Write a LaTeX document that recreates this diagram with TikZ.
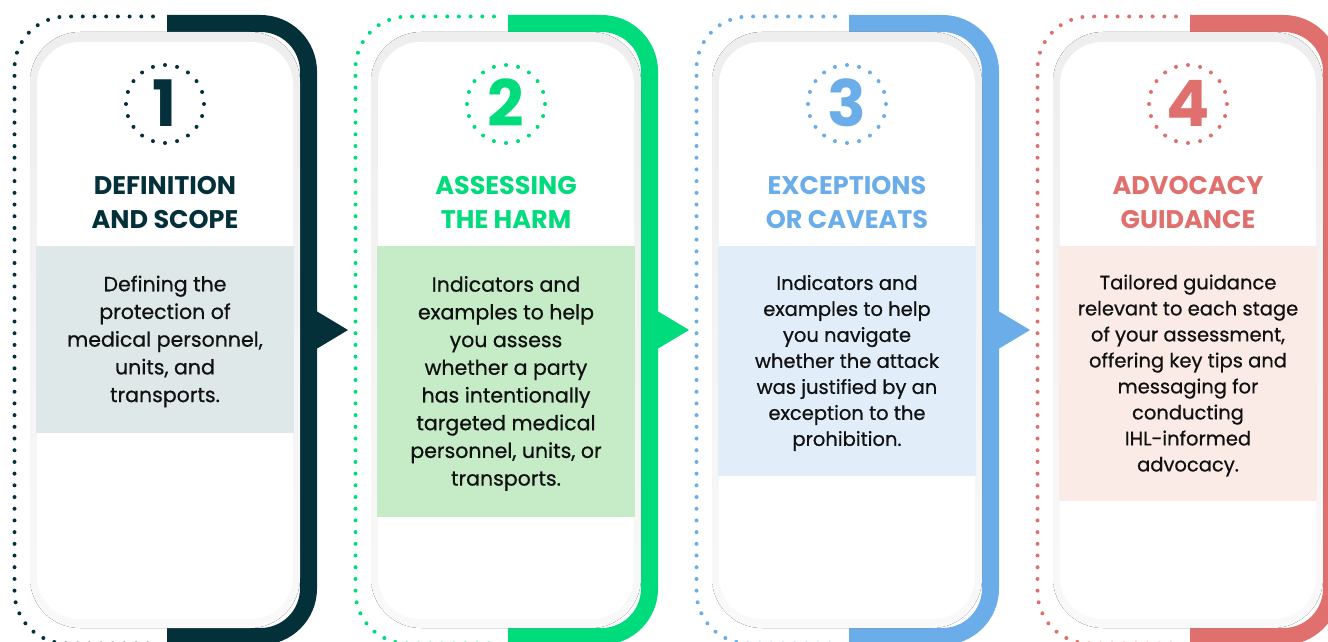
\documentclass[tikz,border=0pt]{standalone}
\usepackage{fontspec}
\setmainfont{Poppins}
\newfontfamily\bodyfont{Poppins}[FakeBold=0.7]
\definecolor{cA}{HTML}{04303A}
\definecolor{cB}{HTML}{00DB7B}
\definecolor{cC}{HTML}{6AADE8}
\definecolor{cD}{HTML}{DF706E}
\definecolor{fA}{HTML}{DFE8E9}
\definecolor{fB}{HTML}{C5ECC7}
\definecolor{fC}{HTML}{E1EEFA}
\definecolor{fD}{HTML}{FBEBE7}
\definecolor{cardtop}{HTML}{EEEEEE}
\definecolor{cardbot}{HTML}{F9F9F9}
\definecolor{ink}{HTML}{111111}
\newcommand\stage[9]{%
  \begin{scope}[xshift=#2]
    \draw[dots,draw=#3,rounded corners=52pt] (153,16.5) -- (14.5,16.5) -- (14.5,643.5) -- (153,643.5);
    \draw[band,draw=#3] (167,23.5) -- (308.5,23.5) -- (308.5,636.5) -- (167,636.5);
    \fill[top color=cardtop,bottom color=cardbot,rounded corners=50pt] (30,32) rectangle (300,628);
    \fill[white,rounded corners=42pt] (37,42) rectangle (293,619);
    \fill[#4] (35.5,246) rectangle (293.5,#8);
    \node[numring,draw=#3] (ring#1) at (165,104) {};
    \node[numtext,text=#3] (digit#1) at (165,103) {#5};
    \node[titletext,text=#3] (title#1) at (165,202.5) {#6};
    \node[bodytext,font=\bodyfont#9] (body#1) at (165,{(246+#8)/2+2}) {#7};
  \end{scope}}
\begin{document}
\begin{tikzpicture}[x=1pt,y=-1pt,
  dots/.style={line width=4pt,line cap=round,dash pattern=on 0pt off 11.7pt},
  band/.style={line width=17pt,rounded corners=48pt},
  numring/.style={circle,minimum size=78pt,inner sep=0pt,line width=4pt,line cap=round,dash pattern=on 0pt off 12.25pt},
  numtext/.style={inner sep=0pt,font=\fontsize{64pt}{64pt}\selectfont\bfseries},
  titletext/.style={inner sep=0pt,align=center,font=\fontsize{25.5pt}{34pt}\selectfont\bfseries},
  bodytext/.style={inner sep=0pt,align=center,text=ink}]
\useasboundingbox (0,0) rectangle (1328,642);
\clip (0,0) rectangle (1328,642);
\stage{1}{0pt}{cA}{fA}{1}{DEFINITION\\AND SCOPE}{Defining the\\protection of\\medical personnel,\\units, and\\transports.}{433}{\fontsize{20.5pt}{27.7pt}\selectfont}
\stage{2}{341pt}{cB}{fB}{2}{ASSESSING\\THE HARM}{Indicators and\\examples to help\\you assess\\whether a party\\has intentionally\\targeted medical\\personnel, units, or\\transports.}{517}{\fontsize{20.5pt}{27.7pt}\selectfont}
\stage{3}{682pt}{cC}{fC}{3}{EXCEPTIONS\\OR CAVEATS}{Indicators and\\examples to help\\you navigate\\whether the attack\\was justified by an\\exception to the\\prohibition.}{476}{\fontsize{19.5pt}{26pt}\selectfont}
\stage{4}{1023pt}{cD}{fD}{4}{ADVOCACY\\GUIDANCE}{Tailored guidance\\relevant to each stage\\of your assessment,\\offering key tips and\\messaging for\\conducting\\IHL-informed\\advocacy.}{501}{\fontsize{19.5pt}{26pt}\selectfont}
\fill[cA] (308,306) -- (348,330) -- (308,354) -- cycle;
\fill[cB] (649,306) -- (689,330) -- (649,354) -- cycle;
\fill[cC] (990,306) -- (1030,330) -- (990,354) -- cycle;
\end{tikzpicture}
\end{document}
